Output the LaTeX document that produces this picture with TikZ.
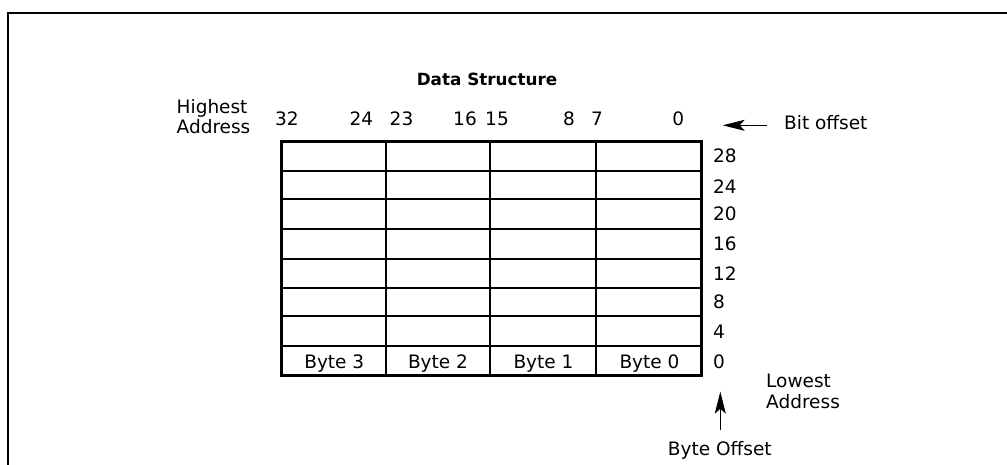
\documentclass[tikz,border=0pt]{standalone}
\usepackage{fontspec}
\setmainfont{DejaVu Sans}
\usetikzlibrary{arrows.meta}
\begin{document}
\begin{tikzpicture}[x=1pt,y=-1pt,
  lbl/.style={inner sep=0pt,anchor=base,font=\fontsize{18.5}{20.4}\selectfont},
  lbll/.style={inner sep=0pt,anchor=base west,font=\fontsize{18.5}{20.4}\selectfont},
  multil/.style={inner sep=0pt,align=left,anchor=north west,font=\fontsize{18.5}{20.4}\selectfont},
  grid/.style={line width=2pt},
  outer/.style={line width=3pt},
  arr/.style={line width=0.9pt,-{Stealth[length=22pt,width=11pt,inset=5pt]}}]
\useasboundingbox (0,0) rectangle (1007,465);
% frame
\draw[line width=2pt] (8.3,465) -- (8.3,12.7) -- (1007,12.7);
% grid
\foreach \y in {170.7,199,229.3,259,287.7,316,346} \draw[grid] (281.7,\y) -- (701.7,\y);
\foreach \x in {386,489.7,596.3} \draw[grid] (\x,141.7) -- (\x,375);
\draw[outer] (281.7,141.7) rectangle (701.7,375);
% title
\node[lbl,font=\fontsize{16.8}{20}\selectfont\bfseries] (title) at (487,86) {Data Structure};
% highest address
\node[multil] (high) at (176.5,99) {Highest\\Address};
% top bit numbers
\node[lbl] (b32) at (287,126) {32};
\node[lbl] (b24) at (361.5,126) {24};
\node[lbl] (b23) at (401.5,126) {23};
\node[lbl] (b16) at (465,126) {16};
\node[lbl] (b15) at (497,126) {15};
\node[lbl] (b8) at (569,126) {8};
\node[lbl] (b7) at (597,126) {7};
\node[lbl] (b0) at (678.3,126) {0};
% bit offset
\node[lbll] (bitoff) at (784,130) {Bit offset};
\coordinate (bittip) at (722.7,125.3);
\draw[arr] (766.7,125.3) -- (bittip);
% row offsets
\node[lbll] (r28) at (713,162.5) {28};
\node[lbll] (r24) at (713,193.5) {24};
\node[lbll] (r20) at (713,220.7) {20};
\node[lbll] (r16) at (713,250.6) {16};
\node[lbll] (r12) at (713,280.7) {12};
\node[lbll] (r8) at (713,308.3) {8};
\node[lbll] (r4) at (713,338.3) {4};
\node[lbll] (r0) at (713,368.3) {0};
% bytes
\node[lbl] (by3) at (334.3,368.3) {Byte 3};
\node[lbl] (by2) at (438,368.3) {Byte 2};
\node[lbl] (by1) at (543.5,368.3) {Byte 1};
\node[lbl] (by0) at (649.5,368.3) {Byte 0};
% lowest address
\node[multil] (low) at (766,374) {Lowest\\Address};
% byte offset
\node[lbl] (byteoff) at (719.8,455) {Byte Offset};
\coordinate (bytetip) at (720.3,391.7);
\draw[arr] (720.3,430) -- (bytetip);
\end{tikzpicture}
\end{document}
